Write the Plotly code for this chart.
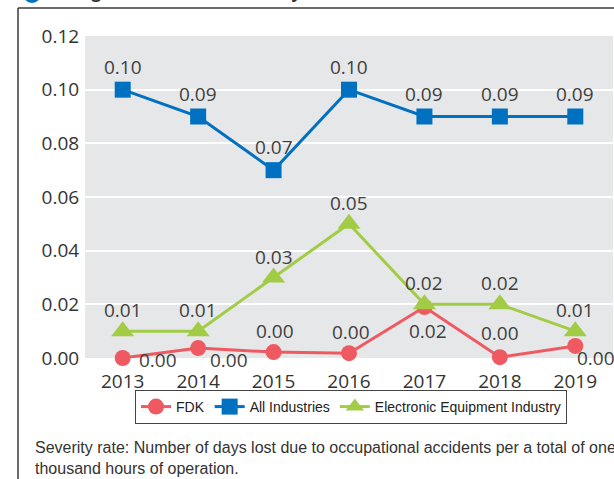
import plotly.graph_objects as go

years = ["2013", "2014", "2015", "2016", "2017", "2018", "2019"]
fdk = [0.0, 0.0037, 0.0022, 0.0018, 0.019, 0.0003, 0.0045]
all_industries = [0.10, 0.09, 0.07, 0.10, 0.09, 0.09, 0.09]
electronic = [0.01, 0.01, 0.03, 0.05, 0.02, 0.02, 0.01]

y_ticks = [0.00, 0.02, 0.04, 0.06, 0.08, 0.10, 0.12]

# label offsets in screen pixels (dx right, dy down) relative to each point
fdk_label_dx = [35, 31, 1, 2, 4, 0, 21]
fdk_label_dy = [2, 12, -21, -21, 24, -24, 12]
all_label_dy = -23
ele_label_dy = -21

title_text = "Changes in Industrial Severity Rate"
note_text = ("Severity rate: Number of days lost due to occupational accidents per a total of one"
             "<br>thousand hours of operation.")

RED = "#ef5a62"
BLUE = "#0070c0"
GREEN = "#a2cc46"
LBL = dict(family="Open Sans, Noto Sans, sans-serif", size=19, color="#404040")
TICK = dict(family="Open Sans, Noto Sans, sans-serif", size=19, color="#333333")
NARROW = "Liberation Sans Narrow, Arial Narrow, Liberation Sans, Arial, sans-serif"

fig = go.Figure()
fig.add_trace(go.Scatter(
    x=years, y=fdk, name="FDK", mode="lines+markers",
    line=dict(color=RED, width=3), marker=dict(symbol="circle", size=16, color=RED),
    cliponaxis=False))
fig.add_trace(go.Scatter(
    x=years, y=all_industries, name="All Industries", mode="lines+markers",
    line=dict(color=BLUE, width=3), marker=dict(symbol="square", size=16, color=BLUE),
    cliponaxis=False))
fig.add_trace(go.Scatter(
    x=years, y=electronic, name="Electronic Equipment Industry", mode="lines+markers",
    line=dict(color=GREEN, width=3), marker=dict(symbol="triangle-up", size=20, color=GREEN),
    cliponaxis=False))

L, R, T, B = 85, 1, 36, 121
W, H = 614, 479
pw, ph = W - L - R, H - T - B


def px_x(px):
    return (px - L) / pw


def px_y(py):
    return (H - B - py) / ph


annotations = []
for i, yr in enumerate(years):
    # category axes take the category index for annotation positions
    annotations.append(dict(x=i, y=fdk[i], xref="x", yref="y", text=f"{fdk[i]:.2f}",
                            showarrow=False, xshift=fdk_label_dx[i], yshift=-fdk_label_dy[i],
                            font=LBL))
    annotations.append(dict(x=i, y=all_industries[i], xref="x", yref="y",
                            text=f"{all_industries[i]:.2f}", showarrow=False,
                            yshift=-all_label_dy, font=LBL))
    annotations.append(dict(x=i, y=electronic[i], xref="x", yref="y",
                            text=f"{electronic[i]:.2f}", showarrow=False,
                            yshift=-ele_label_dy, font=LBL))

annotations += [
    dict(text=title_text, xref="paper", yref="paper", x=px_x(47), y=px_y(4),
         xanchor="left", yanchor="bottom", showarrow=False, borderpad=0,
         font=dict(family="Open Sans, sans-serif", size=17, color="#333333", weight="bold")),
    dict(text=note_text, xref="paper", yref="paper", x=px_x(33), y=px_y(437),
         xanchor="left", yanchor="top", align="left", showarrow=False,
         font=dict(family=NARROW, size=16, color="#333333")),
]

fig.update_layout(
    width=W, height=H,
    margin=dict(l=L, r=R, t=T, b=B),
    paper_bgcolor="white", plot_bgcolor="#e6e7e8",
    showlegend=True,
    legend=dict(orientation="h", x=px_x(351), y=px_y(390), xanchor="center", yanchor="top",
                bgcolor="white", bordercolor="#444444", borderwidth=1,
                font=dict(family=NARROW, size=14, color="#222222")),
    xaxis=dict(type="category", categoryorder="array", categoryarray=years,
               range=[-0.5, 6.5], showgrid=False, zeroline=False, showline=False,
               ticks="outside", ticklen=6, tickcolor="rgba(0,0,0,0)", tickfont=TICK),
    yaxis=dict(range=[0, 0.12], tickvals=y_ticks, tickformat=".2f",
               showgrid=True, gridcolor="white", gridwidth=2, zeroline=False, showline=False,
               ticks="outside", ticklen=1, tickcolor="rgba(0,0,0,0)", tickfont=TICK),
    shapes=[
        dict(type="line", xref="paper", yref="paper", x0=px_x(18), x1=px_x(18),
             y0=px_y(8), y1=px_y(485), line=dict(color="#3a3a3a", width=1.5)),
        dict(type="line", xref="paper", yref="paper", x0=px_x(18), x1=px_x(620),
             y0=px_y(8), y1=px_y(8), line=dict(color="#3a3a3a", width=1.5)),
        dict(type="circle", xref="paper", yref="paper", x0=px_x(23), x1=px_x(41),
             y0=px_y(3), y1=px_y(-15), fillcolor=BLUE, line=dict(width=0)),
    ],
    annotations=annotations,
)

fig.write_html("out.html", post_script="document.body.style.margin='0';",
               config={"displayModeBar": False})
